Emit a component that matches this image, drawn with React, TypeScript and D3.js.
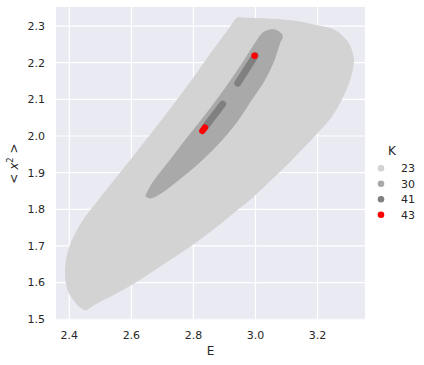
import React from "react";
import * as d3 from "d3";

// Region outlines (E, <x^2>)
const k23E = [2.941, 2.960, 3.015, 3.080, 3.144, 3.186, 3.251, 3.283, 3.302, 3.315, 3.312, 3.299, 3.276, 3.244, 3.202, 3.147, 3.093, 3.044, 2.996, 2.944, 2.864, 2.789, 2.712, 2.628, 2.551, 2.499, 2.473, 2.454, 2.435, 2.415, 2.396, 2.388, 2.390, 2.398, 2.410, 2.426, 2.445, 2.464, 2.515, 2.597, 2.699, 2.789, 2.860, 2.918];
const k23Y = [2.322, 2.322, 2.320, 2.317, 2.311, 2.303, 2.290, 2.270, 2.249, 2.213, 2.180, 2.142, 2.098, 2.052, 2.011, 1.962, 1.915, 1.876, 1.837, 1.801, 1.746, 1.699, 1.656, 1.609, 1.571, 1.549, 1.536, 1.526, 1.533, 1.552, 1.579, 1.620, 1.656, 1.689, 1.716, 1.743, 1.770, 1.792, 1.847, 1.934, 2.044, 2.145, 2.230, 2.296];

const k30E = [2.650, 2.671, 2.725, 2.779, 2.822, 2.875, 2.929, 2.972, 2.999, 3.010, 3.022, 3.041, 3.058, 3.074, 3.085, 3.085, 3.080, 3.058, 3.026, 2.983, 2.940, 2.886, 2.822, 2.757, 2.693, 2.660, 2.647];
const k30Y = [1.843, 1.875, 1.934, 1.994, 2.039, 2.098, 2.162, 2.217, 2.253, 2.267, 2.280, 2.288, 2.290, 2.285, 2.276, 2.265, 2.258, 2.203, 2.148, 2.094, 2.039, 1.984, 1.930, 1.884, 1.843, 1.831, 1.836];

// K=41 strands (pairs of end points)
const k41E = [[2.943, 2.999], [2.838, 2.894]];
const k41Y = [[2.144, 2.219], [2.025, 2.087]];

// K=43 points
const k43E = [[2.829, 2.837], [2.997, 2.997]];
const k43Y = [[2.014, 2.023], [2.219, 2.219]];

const xTicks = [2.4, 2.6, 2.8, 3.0, 3.2];
const yTicks = [1.5, 1.6, 1.7, 1.8, 1.9, 2.0, 2.1, 2.2, 2.3];
const legendLabels = ["23", "30", "41", "43"];
const legendColors = ["#d3d3d3", "#a9a9a9", "#808080", "#ff0000"];

const W = 424, H = 365;
const L = 56, R = 365, T = 7, B = 320;

export default function App() {
  const x = d3.scaleLinear().domain([2.357, 3.353]).range([L, R]);
  const y = d3.scaleLinear().domain([1.498, 2.352]).range([B, T]);
  const font = "'DejaVu Sans', sans-serif";
  const txt = "#262626";

  const poly = (es: number[], ys: number[]) =>
    d3.line<number>().x((_, i) => x(es[i])).y((_, i) => y(ys[i])).curve(d3.curveCatmullRomClosed.alpha(0.5))(es.map((_, i) => i)) || "";
  const seg = (es: number[], ys: number[]) =>
    d3.line<number>().x((_, i) => x(es[i])).y((_, i) => y(ys[i]))(es.map((_, i) => i)) || "";

  return (
    <svg width={W} height={H} style={{ position: "absolute", left: 0, top: 0 }} fontFamily={font}>
      <rect x={0} y={0} width={W} height={H} fill="#ffffff" />
      <rect x={L} y={T} width={R - L} height={B - T} fill="#eaeaf2" />
      <g stroke="#ffffff" strokeWidth={1.2}>
        {xTicks.map((t) => (
          <line key={"gx" + t} x1={x(t)} x2={x(t)} y1={T} y2={B} />
        ))}
        {yTicks.map((t) => (
          <line key={"gy" + t} x1={L} x2={R} y1={y(t)} y2={y(t)} />
        ))}
      </g>
      <path d={poly(k23E, k23Y)} fill={legendColors[0]} stroke={legendColors[0]} strokeWidth={1} strokeLinejoin="round" />
      <path d={poly(k30E, k30Y)} fill={legendColors[1]} stroke={legendColors[1]} strokeWidth={1} strokeLinejoin="round" />
      {k41E.map((es, i) => (
        <path key={"k41" + i} d={seg(es, k41Y[i])} fill="none" stroke={legendColors[2]} strokeWidth={7} strokeLinecap="round" />
      ))}
      {k43E.map((es, i) => (
        <path key={"k43" + i} d={seg(es, k43Y[i])} fill="none" stroke={legendColors[3]} strokeWidth={6.5} strokeLinecap="round" />
      ))}
      <g fontSize={11} fill={txt}>
        {xTicks.map((t) => (
          <text key={"tx" + t} x={x(t)} y={339} textAnchor="middle">{t.toFixed(1)}</text>
        ))}
        {yTicks.map((t) => (
          <text key={"ty" + t} x={45} y={y(t)} dy="0.35em" textAnchor="end">{t.toFixed(1)}</text>
        ))}
      </g>
      <text x={(L + R) / 2} y={355} textAnchor="middle" fontSize={12} fill={txt}>E</text>
      <text transform={`translate(18,${(T + B) / 2}) rotate(-90)`} textAnchor="middle" fontSize={12} fill={txt}>
        <tspan>{"< "}</tspan>
        <tspan fontStyle="italic">x</tspan>
        <tspan dy={-5} fontSize={8.5}>2</tspan>
        <tspan dy={5}>{" >"}</tspan>
      </text>
      <text x={392} y={150.7} dy="0.35em" textAnchor="middle" fontSize={12} fill={txt}>K</text>
      {legendLabels.map((lab, i) => (
        <g key={"lg" + lab}>
          <circle cx={381} cy={168.3 + i * 15.5} r={3.3} fill={legendColors[i]} />
          <text x={401} y={168.3 + i * 15.5} dy="0.35em" fontSize={11} fill={txt}>{lab}</text>
        </g>
      ))}
    </svg>
  );
}
